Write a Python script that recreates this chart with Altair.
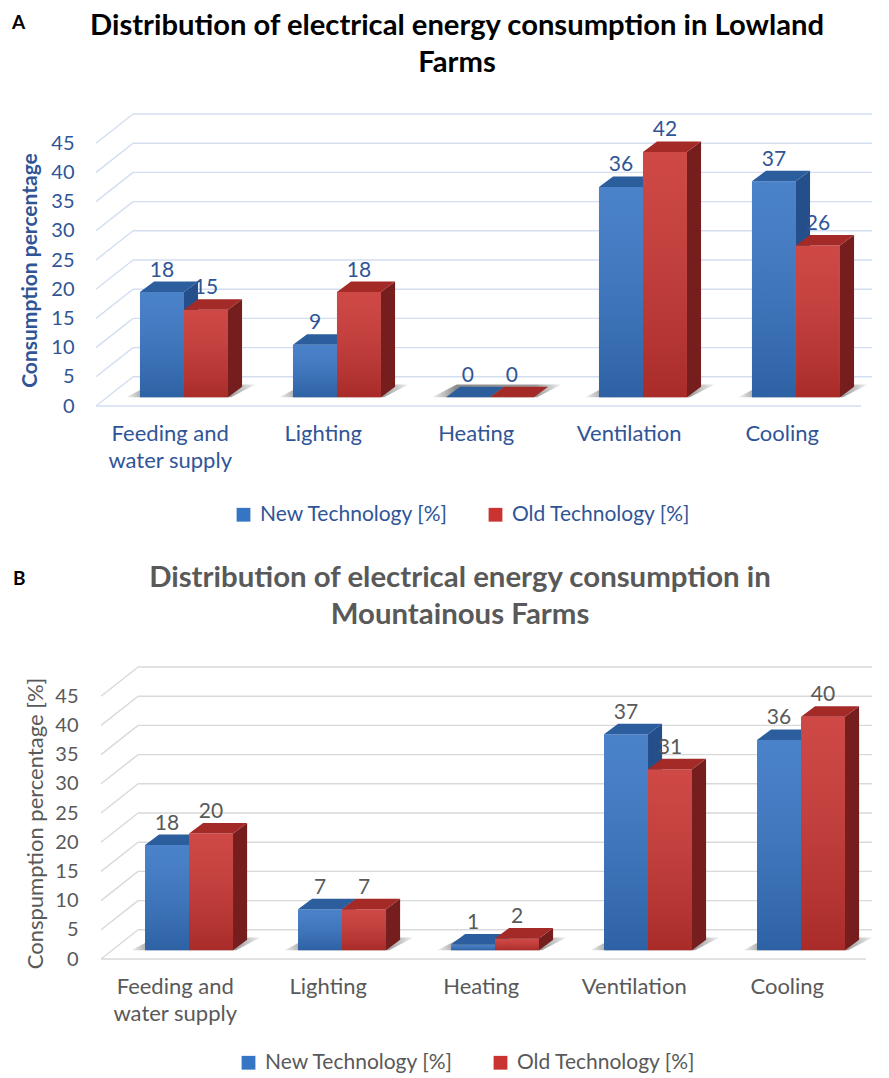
import altair as alt
import pandas as pd

# ---------------- data ----------------
categories = ["Feeding and\nwater supply", "Lighting", "Heating", "Ventilation", "Cooling"]
series = ["New Technology [%]", "Old Technology [%]"]
lowland_new = [18, 9, 0, 36, 37]
lowland_old = [15, 18, 0, 42, 26]
mountain_new = [18, 7, 1, 37, 36]
mountain_old = [20, 7, 2, 31, 40]
y_ticks = [0, 5, 10, 15, 20, 25, 30, 35, 40, 45]
title_a = "Distribution of electrical energy consumption in Lowland\nFarms"
title_b = "Distribution of electrical energy consumption in\nMountainous Farms"

# ---------------- style / geometry ----------------
FONT = "Lato"
W, H = 776, 292
X_MIN, X_MAX = -0.575, 4.497
FRONT_RIGHT = 4.425
WALL_DX, WALL_DY = 0.242, 5
BAR_W = 0.2876
DX, DY = 0.092, 1.8
BASE = 1.5
LABEL_SHIFT = -0.09
BLUE, RED = "#3674C4", "#C93431"
BLUE_SIDE, RED_SIDE = "#254F8A", "#761D1D"
BLUE_TOP, RED_TOP = "#2C5E9E", "#A42A28"

yscale = alt.Scale(domain=[0, 50], nice=False, zero=True)


def frames(new_vals, old_vals):
    bars, side, top, shadow = [], [], [], []
    for i in range(len(categories)):
        for s, vals in enumerate([new_vals, old_vals]):
            v = vals[i]
            x0 = i - BAR_W + s * BAR_W
            x1 = x0 + BAR_W
            y0, y1 = BASE, BASE + v
            bid = f"{i}-{s}"
            bars.append(dict(series=series[s], s=s, x0=x0, x1=x1, y0=y0, y1=y1,
                             v=v, xc=(x0 + x1) / 2, ylab=y1 + DY))
            side += [dict(bid=bid, s=s, x=x1, lo=y0, hi=y1),
                     dict(bid=bid, s=s, x=x1 + DX, lo=y0 + DY, hi=y1 + DY)]
            top += [dict(bid=bid, s=s, x=x0, lo=y1, hi=y1),
                    dict(bid=bid, s=s, x=x0 + DX, lo=y1, hi=y1 + DY),
                    dict(bid=bid, s=s, x=x1, lo=y1, hi=y1 + DY),
                    dict(bid=bid, s=s, x=x1 + DX, lo=y1 + DY, hi=y1 + DY)]
        a = i - BAR_W - 0.09
        c = i + BAR_W + 0.02
        sh, hh = 0.16, 2.2
        shadow += [dict(cid=i, x=a, lo=BASE, hi=BASE),
                   dict(cid=i, x=a + sh, lo=BASE, hi=BASE + hh),
                   dict(cid=i, x=c, lo=BASE, hi=BASE + hh),
                   dict(cid=i, x=c + sh, lo=BASE + hh, hi=BASE + hh)]
    return (pd.DataFrame(bars), pd.DataFrame(side), pd.DataFrame(top),
            pd.DataFrame(shadow))


def panel(new_vals, old_vals, shift, title_text, title_color, title_size, title_x,
          title_y, ytitle, ytitle_bold, ytitle_size, ytitle_x, label_pad,
          text_color, grid_color, letter, letter_x, letter_y, legend_x, legend_y):
    bars, side, top, shadow = frames(new_vals, old_vals)
    xscale = alt.Scale(domain=[X_MIN - shift, X_MAX - shift], nice=False, zero=False)

    grid = pd.DataFrame({"t": y_ticks})
    grid["tb"] = grid["t"] + WALL_DY
    grid["xa"] = X_MIN
    grid["xb"] = X_MIN + WALL_DX
    grid["xe"] = X_MAX - shift
    floor = pd.DataFrame({"xa": [X_MIN], "xe": [FRONT_RIGHT], "y": [0]})

    yaxis = alt.Axis(values=y_ticks, domain=False, ticks=False, grid=False,
                     labelFont=FONT, labelFontSize=20, labelColor=text_color,
                     labelPadding=label_pad, title=ytitle, titleFont=FONT,
                     titleFontSize=ytitle_size,
                     titleFontWeight="bold" if ytitle_bold else "normal",
                     titleColor=text_color, titleX=ytitle_x, titleY=H / 2 + 10,
                     titleAngle=-90, titleBaseline="middle", titleAlign="center")

    def X(f):
        return alt.X(f, scale=xscale, axis=None)

    def Y(f):
        return alt.Y(f, scale=yscale, axis=yaxis)

    back = alt.Chart(grid).mark_rule(color=grid_color, strokeWidth=1.4).encode(
        x=X("xb:Q"), x2="xe:Q", y=Y("tb:Q"))
    diag = alt.Chart(grid).mark_rule(color=grid_color, strokeWidth=1.4).encode(
        x=X("xa:Q"), x2="xb:Q", y=Y("t:Q"), y2="tb:Q")
    front_floor = alt.Chart(floor).mark_rule(color=grid_color, strokeWidth=1.4).encode(
        x=X("xa:Q"), x2="xe:Q", y=Y("y:Q"))

    shadow_layer = alt.Chart(shadow).mark_area(
        orient="vertical",
        fill=alt.Gradient(gradient="linear",
                          stops=[alt.GradientStop(color="#f2f2f2", offset=0),
                                 alt.GradientStop(color="#8c8c8c", offset=0.18),
                                 alt.GradientStop(color="#9a9a9a", offset=0.8),
                                 alt.GradientStop(color="#f2f2f2", offset=1)],
                          x1=0, x2=1, y1=0, y2=0)).encode(
        x=X("x:Q"), y=Y("lo:Q"), y2="hi:Q", detail="cid:N")

    color = alt.Color("series:N",
                      scale=alt.Scale(domain=series, range=[BLUE, RED]),
                      legend=alt.Legend(orient="none", legendX=legend_x,
                                        legendY=legend_y, direction="horizontal",
                                        title=None, symbolType="square",
                                        symbolSize=190, symbolStrokeWidth=0,
                                        labelFont=FONT, labelFontSize=21,
                                        labelColor=text_color, labelOffset=6,
                                        labelLimit=0, columnPadding=36))
    shade = alt.Gradient(gradient="linear",
                         stops=[alt.GradientStop(color="rgba(255,255,255,0.10)", offset=0),
                                alt.GradientStop(color="rgba(0,0,0,0.16)", offset=1)],
                         x1=0, x2=0, y1=0, y2=1)
    side_fill = {0: BLUE_SIDE, 1: RED_SIDE}
    top_fill = {0: BLUE_TOP, 1: RED_TOP}

    layers = [back, diag, front_floor, shadow_layer]
    for s in (0, 1):
        b = bars[bars.s == s]
        layers.append(alt.Chart(b).mark_rect().encode(
            x=X("x0:Q"), x2="x1:Q", y=Y("y0:Q"), y2="y1:Q", color=color))
        layers.append(alt.Chart(b).mark_rect(fill=shade).encode(
            x=X("x0:Q"), x2="x1:Q", y=Y("y0:Q"), y2="y1:Q"))
        layers.append(alt.Chart(side[side.s == s]).mark_area(
            orient="vertical", color=side_fill[s]).encode(
            x=X("x:Q"), y=Y("lo:Q"), y2="hi:Q", detail="bid:N"))
        layers.append(alt.Chart(top[top.s == s]).mark_area(
            orient="vertical", color=top_fill[s]).encode(
            x=X("x:Q"), y=Y("lo:Q"), y2="hi:Q", detail="bid:N"))

    labels = alt.Chart(bars).mark_text(font=FONT, fontSize=21, color=text_color,
                                       baseline="middle", dy=-11).encode(
        x=X("xc:Q"), y=Y("ylab:Q"), text="v:Q")

    cats = pd.DataFrame({"label": categories,
                         "x": [i + LABEL_SHIFT for i in range(len(categories))]})
    cat_text = alt.Chart(cats).mark_text(font=FONT, fontSize=22, color=text_color,
                                         baseline="top", align="center",
                                         lineBreak="\n", lineHeight=27).encode(
        x=X("x:Q"), y=alt.value(H + 18), text="label:N")

    letter_layer = alt.Chart(pd.DataFrame({"t": [letter]})).mark_text(
        font=FONT, fontSize=19, fontWeight="bold", color="#000000",
        align="left", baseline="middle").encode(
        x=alt.value(letter_x), y=alt.value(letter_y), text="t:N")

    title_layer = alt.Chart(pd.DataFrame({"t": [title_text]})).mark_text(
        font=FONT, fontSize=title_size, fontWeight="bold", color=title_color,
        align="center", baseline="top", lineBreak="\n", lineHeight=37).encode(
        x=alt.value(title_x), y=alt.value(title_y), text="t:N")

    layers += [labels, cat_text, letter_layer, title_layer]

    return alt.layer(*layers).properties(width=W, height=H)


A = panel(lowland_new, lowland_old, 0.0, title_a, "#000000", 29.2, 361, -102,
          "Consumption percentage", True, 21, -66, 22,
          "#2F5597", "#D3DEF1", "A", -84, -91, 137, 390)
B = panel(mountain_new, mountain_old, 0.033, title_b, "#595959", 29.4, 364, -103,
          "Conspumption percentage [%]", False, 22, -61, 18,
          "#595959", "#D9D9D9", "B", -83, -88, 142, 385)

chart = alt.vconcat(A, B, spacing=38).properties(
    padding={"left": 4, "top": 4, "right": 0, "bottom": 0}
).resolve_scale(color="independent").resolve_legend(color="independent"
).configure_view(stroke=None)

chart.save("out.html", embed_options={"renderer": "svg", "actions": False})
